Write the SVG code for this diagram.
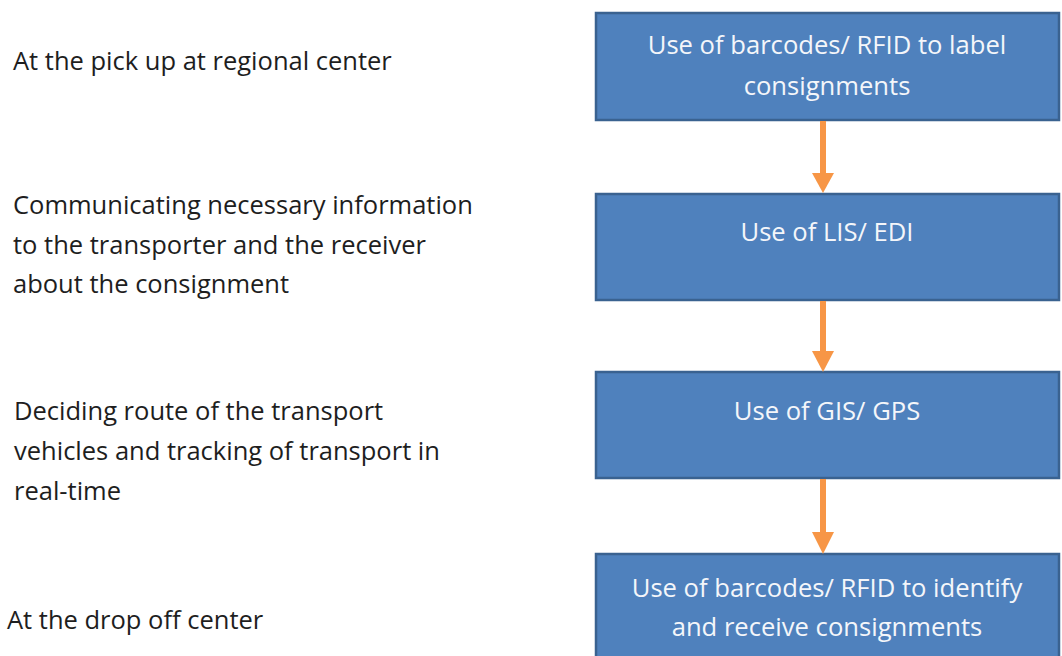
<svg xmlns="http://www.w3.org/2000/svg" width="1062" height="656" viewBox="0 0 1062 656">
<style>
.box{fill:#4F81BD;stroke:#3A6290;stroke-width:2.5}
.bt{font-family:"Open Sans","Liberation Sans",sans-serif;font-size:25.6px;fill:#F4F6FA;text-anchor:middle}
.lt{font-family:"Open Sans","Liberation Sans",sans-serif;font-size:25.5px;fill:#1E1E1E}
.arr{stroke:#F79646;stroke-width:6;fill:none}
.head{fill:#F79646}
</style>
<rect width="1062" height="656" fill="#FFFFFF"/>
<g id="label-pickup"><text class="lt" x="13" y="69.5">At the pick up at regional center</text></g>
<g id="label-communicating"><text class="lt" x="13" y="213.5">Communicating necessary information</text><text class="lt" x="13" y="253.5">to the transporter and the receiver</text><text class="lt" x="13" y="292.5">about the consignment</text></g>
<g id="label-deciding"><text class="lt" x="14" y="419.5">Deciding route of the transport</text><text class="lt" x="14" y="459.5">vehicles and tracking of transport in</text><text class="lt" x="14" y="499.5">real-time</text></g>
<g id="label-dropoff"><text class="lt" x="7" y="628.5">At the drop off center</text></g>
<g id="box1"><rect class="box" x="596" y="13" width="463" height="107"/><text class="bt" x="827" y="54">Use of barcodes/ RFID to label</text><text class="bt" x="827" y="94.5">consignments</text></g>
<g id="box2"><rect class="box" x="596" y="194" width="463" height="106"/><text class="bt" x="827" y="241">Use of LIS/ EDI</text></g>
<g id="box3"><rect class="box" x="596" y="372" width="463" height="106"/><text class="bt" x="827" y="420">Use of GIS/ GPS</text></g>
<g id="box4"><rect class="box" x="596" y="554" width="463" height="110"/><text class="bt" x="827" y="597">Use of barcodes/ RFID to identify</text><text class="bt" x="827" y="636">and receive consignments</text></g>
<g id="connectors">
<line class="arr" x1="823" y1="121" x2="823" y2="175"/><polygon class="head" points="812,173 834,173 823,193"/>
<line class="arr" x1="823" y1="301" x2="823" y2="353"/><polygon class="head" points="812,351 834,351 823,372"/>
<line class="arr" x1="823" y1="479" x2="823" y2="534"/><polygon class="head" points="812,532 834,532 823,554"/>
</g>
</svg>
